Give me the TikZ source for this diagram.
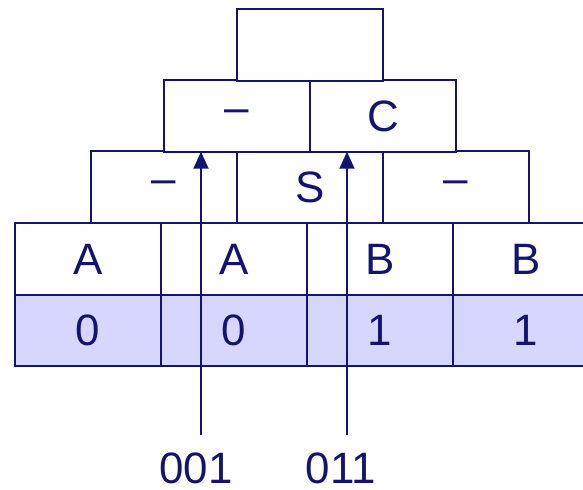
\documentclass[tikz,border=0pt]{standalone}
\usepackage{fontspec}
\setmainfont{Liberation Sans}
\usetikzlibrary{arrows.meta}
\definecolor{navy}{RGB}{20,20,112}
\definecolor{lav}{RGB}{214,214,255}
\begin{document}
\begin{tikzpicture}[x=0.02cm, y=-0.02cm,
  cell/.style={draw=navy, line width=1.1pt, minimum width=2.92cm, minimum height=1.43cm,
               inner sep=0pt, outer sep=0pt, fill=white, text=navy, font=\fontsize{25}{29}\selectfont},
  bit/.style={cell, fill=lav},
  ptr/.style={-{Triangle[width=0.3cm, length=0.34cm]}, draw=navy, line width=1.1pt},
  lab/.style={text=navy, font=\fontsize{25}{29}\selectfont}
]
  \useasboundingbox (0,0) rectangle (583,490);

  % bits
  \node[bit] (b0) at (88,330)  {0};
  \node[bit] (b1) at (234,330) {0};
  \node[bit] (b2) at (380,330) {1};
  \node[bit] (b3) at (526,330) {1};

  % keys
  \node[cell] (k0) at (88,259)  {A};
  \node[cell] (k1) at (234,259) {A};
  \node[cell] (k2) at (380,259) {B};
  \node[cell] (k3) at (526,259) {B};

  % upper levels
  \node[cell] (m0) at (164,187) {--};
  \node[cell] (m1) at (310,187) {S};
  \node[cell] (m2) at (456,187) {--};

  \node[cell] (u0) at (237,116) {--};
  \node[cell] (u1) at (383,116) {C};

  \node[cell] (top) at (310,45) {};

  % pointers
  \node[lab] (p0) at (196,468) {001};
  \node[lab] (p1) at (341,468) {011};
  \coordinate (t0) at (201,435);
  \coordinate (t1) at (347,435);

  \draw[ptr] (t0) -- (t0 |- u0.south);
  \draw[ptr] (t1) -- (t1 |- u1.south);
\end{tikzpicture}
\end{document}
